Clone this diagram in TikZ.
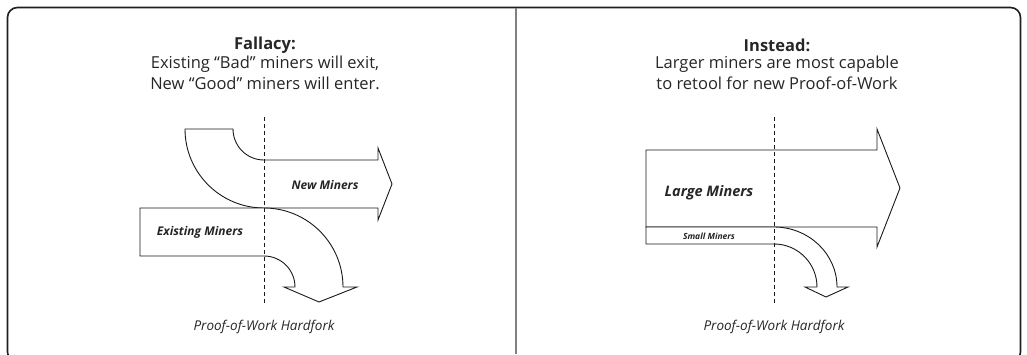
\documentclass[tikz,border=0pt]{standalone}
\usepackage{fontspec}
\setmainfont{Open Sans}
\begin{document}
\begin{tikzpicture}[x=1pt,y=-1pt,
  txt/.style={text=black!85, inner sep=0pt, align=center},
  title/.style={txt, font=\fontsize{16.5}{19}\selectfont\bfseries},
  body/.style={txt, font=\fontsize{16.5}{19}\selectfont},
  lbl/.style={txt, font=\fontsize{12}{14}\selectfont\bfseries\itshape},
  foot/.style={txt, font=\fontsize{13.5}{16}\selectfont\itshape},
  shp/.style={draw=black!90, line width=0.9pt, fill=white, line join=miter},
  cut/.style={draw=black!90, line width=0.8pt, dash pattern=on 4pt off 3pt}]
\useasboundingbox (0,0) rectangle (1027,354);
% frame
\draw[black!88, line width=1.6pt, rounded corners=10pt] (7.5,7.5) rectangle (1020.5,362);
\coordinate (dtop) at (516,7.5);
\coordinate (dbot) at (516,354);
\draw[black!50, line width=1.6pt] (dtop) -- (dbot);

% ---------- left panel ----------
\node[title] (ftitle) at (265,45) {Fallacy:};
\node[body] (fline1) at (265,64.5) {Existing “Bad” miners will exit,};
\node[body] (fline2) at (265,83.5) {New “Good” miners will enter.};

% New Miners
\draw[shp] (185,129) -- (233,129) arc[start angle=180, end angle=270, radius=31pt]
  -- (378,160) -- (378,148) -- (392,184) -- (378,220) -- (378,208) -- (264,208)
  arc[start angle=270, end angle=180, radius=79pt] -- cycle;
% Existing Miners
\draw[shp] (140,208) -- (264,208) arc[start angle=90, end angle=0, radius=79pt]
  -- (357,287) -- (319,302) -- (284,287) -- (295,287)
  arc[start angle=0, end angle=90, radius=31pt] -- (140,256) -- cycle;

\node[lbl] (newm) at (325,185) {New Miners};
\node[lbl] (exm) at (200,232) {Existing Miners};

\coordinate (lt) at (264,117);
\coordinate (lb) at (264,305);
\draw[cut] (lt) -- (lb);
\node[foot] (lfoot) at (264,327) {Proof-of-Work Hardfork};

% ---------- right panel ----------
\node[title] (ititle) at (777,45) {Instead:};
\node[body] (iline1) at (777,64.5) {Larger miners are most capable};
\node[body] (iline2) at (777,83.5) {to retool for new Proof-of-Work};

% Large Miners
\draw[shp] (646,150) -- (877,150) -- (877,129) -- (900,188) -- (877,247) -- (877,227) -- (646,227) -- cycle;
% Small Miners
\draw[shp] (646,227) -- (774,227) arc[start angle=90, end angle=0, x radius=63pt, y radius=60pt]
  -- (848,287) -- (826,297) -- (805,287) -- (817,287)
  arc[start angle=0, end angle=90, radius=43pt] -- (646,244) -- cycle;

\node[txt, font=\fontsize{14.5}{17}\selectfont\bfseries\itshape] (largem) at (709,193) {Large Miners};
\node[txt, font=\fontsize{8.5}{10}\selectfont\bfseries\itshape] (smallm) at (709,236.5) {Small Miners};

\coordinate (rt) at (774,117);
\coordinate (rb) at (774,305);
\draw[cut] (rt) -- (rb);
\node[foot] (rfoot) at (774,327) {Proof-of-Work Hardfork};
\end{tikzpicture}
\end{document}
